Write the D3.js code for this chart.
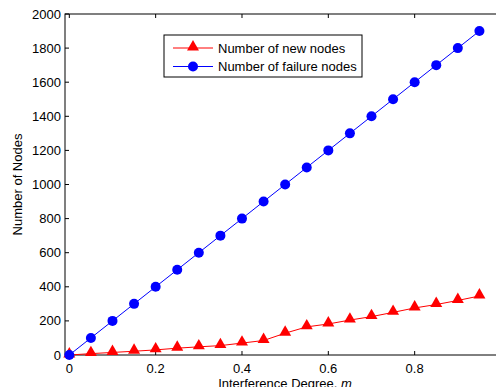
<!DOCTYPE html>
<html>
<head>
<meta charset="utf-8">
<script src="https://cdn.jsdelivr.net/npm/d3@7"></script>
<style>
  body { margin: 0; background: #fff; }
  text { font-family: "Liberation Sans", Arial, sans-serif; }
</style>
</head>
<body>
<div id="app"></div>
<script>
// data
const degree = [0, 0.05, 0.1, 0.15, 0.2, 0.25, 0.3, 0.35, 0.4, 0.45, 0.5, 0.55, 0.6, 0.65, 0.7, 0.75, 0.8, 0.85, 0.9, 0.95]
const newNodes = [0, 8, 15, 22, 30, 40, 48, 55, 70, 85, 128, 165, 182, 205, 225, 250, 276, 296, 320, 346]
const failureNodes = [0, 100, 200, 300, 400, 500, 600, 700, 800, 900, 1000, 1100, 1200, 1300, 1400, 1500, 1600, 1700, 1800, 1900]
const xTicks = [0, 0.2, 0.4, 0.6, 0.8, 1]
const yTicks = [0, 200, 400, 600, 800, 1000, 1200, 1400, 1600, 1800, 2000]
const seriesNames = ["Number of new nodes", "Number of failure nodes"]

const W = 496, H = 387
const pL = 65, pR = 501, pT = 14, pB = 355

const svg = d3.select("#app").append("svg")
    .attr("width", W)
    .attr("height", H)

const x = d3.scaleLinear().domain([-0.01, 1]).range([pL, pR])
const y = d3.scaleLinear().domain([0, 2000]).range([pB, pT])

// box
svg.append("rect")
    .attr("x", pL).attr("y", pT)
    .attr("width", pR - pL).attr("height", pB - pT)
    .attr("fill", "none").attr("stroke", "#000").attr("stroke-width", 1)

const tickLen = 4
const g = svg.append("g").attr("stroke", "#000").attr("stroke-width", 1)
xTicks.forEach(t => {
  g.append("line").attr("x1", x(t)).attr("x2", x(t)).attr("y1", pB).attr("y2", pB - tickLen)
  g.append("line").attr("x1", x(t)).attr("x2", x(t)).attr("y1", pT).attr("y2", pT + tickLen)
})
yTicks.forEach(t => {
  g.append("line").attr("x1", pL).attr("x2", pL + tickLen).attr("y1", y(t)).attr("y2", y(t))
  g.append("line").attr("x1", pR).attr("x2", pR - tickLen).attr("y1", y(t)).attr("y2", y(t))
})

svg.append("g").selectAll("text")
  .data(xTicks.filter(t => t < 1))
  .join("text")
    .attr("x", d => x(d))
    .attr("y", 373)
    .attr("text-anchor", "middle")
    .attr("font-size", 13)
    .text(d => d3.format("~g")(d))

svg.append("g").selectAll("text")
  .data(yTicks)
  .join("text")
    .attr("x", pL - 4)
    .attr("y", d => y(d) + 4.5)
    .attr("text-anchor", "end")
    .attr("font-size", 13)
    .text(d => d)

// axis titles (the reference crops the x title at the bottom edge)
const xl = svg.append("text")
    .attr("x", (pL + pR) / 2 + 2)
    .attr("y", 388)
    .attr("text-anchor", "middle")
    .attr("font-size", 13)
xl.append("tspan").text("Interference Degree, ")
xl.append("tspan").attr("font-style", "italic").text("m")

svg.append("text")
    .attr("transform", `translate(22,${(pT + pB) / 2}) rotate(-90)`)
    .attr("text-anchor", "middle")
    .attr("font-size", 13)
    .text("Number of Nodes")

// series
const line = d3.line().x(d => x(d[0])).y(d => y(d[1]))
const tri = d3.symbol().type(d3.symbolTriangle).size(62)

const redPts = degree.map((d, i) => [d, newNodes[i]])
const bluePts = degree.map((d, i) => [d, failureNodes[i]])

svg.append("path").datum(redPts).attr("d", line)
    .attr("fill", "none").attr("stroke", "#ff0000").attr("stroke-width", 1)
svg.append("g").selectAll("path").data(redPts).join("path")
    .attr("d", tri)
    .attr("transform", d => `translate(${x(d[0])},${y(d[1]) - 1})`)
    .attr("fill", "#ff0000")

svg.append("path").datum(bluePts).attr("d", line)
    .attr("fill", "none").attr("stroke", "#0000ff").attr("stroke-width", 1)
svg.append("g").selectAll("circle").data(bluePts).join("circle")
    .attr("cx", d => x(d[0])).attr("cy", d => y(d[1]))
    .attr("r", 5)
    .attr("fill", "#0000ff")

// legend
const lg = svg.append("g")
lg.append("rect")
    .attr("x", 164).attr("y", 35).attr("width", 198).attr("height", 42)
    .attr("fill", "#fff").attr("stroke", "#000").attr("stroke-width", 1)
const rows = [
  { name: seriesNames[0], color: "#ff0000", y: 48 },
  { name: seriesNames[1], color: "#0000ff", y: 66.5 },
]
rows.forEach((r, i) => {
  lg.append("line").attr("x1", 173).attr("x2", 213).attr("y1", r.y).attr("y2", r.y)
    .attr("stroke", r.color).attr("stroke-width", 1)
  if (i === 0) {
    lg.append("path").attr("d", tri).attr("transform", `translate(193,${r.y - 1})`).attr("fill", r.color)
  } else {
    lg.append("circle").attr("cx", 193).attr("cy", r.y).attr("r", 5).attr("fill", r.color)
  }
  lg.append("text").attr("x", 218).attr("y", r.y + 4.5).attr("font-size", 13).text(r.name)
})
</script>
</body>
</html>
